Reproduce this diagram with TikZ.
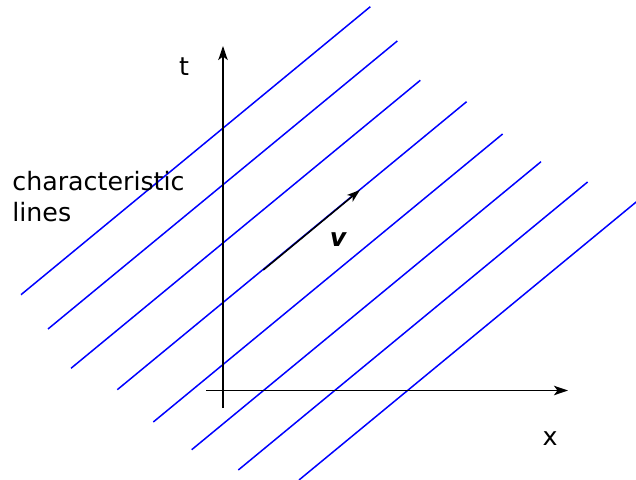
\documentclass[tikz,border=0pt]{standalone}
\usepackage{fontspec}
\setmainfont{DejaVu Sans}
\usepackage{tikz}
\usetikzlibrary{calc, arrows.meta}

\begin{document}
\begin{tikzpicture}[x=0.02cm, y=-0.02cm,
    carac/.style={blue, line width=0.85pt},
    axe/.style={black, line width=0.85pt, -{Stealth[length=8pt, width=5.4pt, inset=2pt]}},
    etiq/.style={font=\fontsize{14.4}{17.6}\selectfont, inner sep=0pt}]
  % Cadre (636 x 480)
  \clip (0,0) rectangle (636,480);
  % Droites caracteristiques
  \foreach \xo/\yo in {21/294.7, 48/329, 71/368.3, 117.3/389.7, 153.3/422, 191.7/449.7, 238.3/470, 299/480}
    \draw[carac] (\xo,\yo) -- ++(349.3,-288);
  % Axes
  \coordinate (xa) at (206,390.5);
  \coordinate (xb) at (568,390.5);
  \coordinate (ta) at (223,408);
  \coordinate (tb) at (223,46);
  \draw[axe] (xa) -- (xb);
  \draw[axe] (ta) -- (tb);
  \node[etiq] (xlab) at (550,439) {x};
  \node[etiq] (tlab) at (184,67) {t};
  % Vitesse v
  \coordinate (v0) at (263.3,270);
  \coordinate (v1) at (360,190);
  \draw[line width=0.85pt, -{Stealth[length=7.5pt, width=5pt, inset=2pt]}] (v0) -- (v1);
  \node[etiq] (vlab) at (338,240) {\bfseries\itshape v};
  % Legende
  \node[etiq, anchor=west, align=left] (legende) at (12,197) {characteristic\\lines};
\end{tikzpicture}
\end{document}
